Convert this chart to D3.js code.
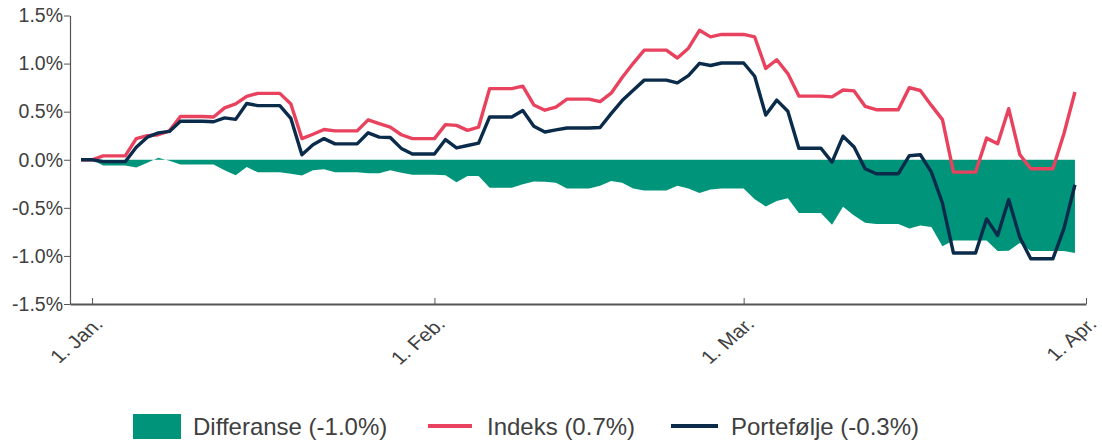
<!DOCTYPE html>
<html><head><meta charset="utf-8">
<script src="https://cdn.jsdelivr.net/npm/d3@7"></script>
<style>body{margin:0;background:#fff}svg{display:block}</style>
</head><body><svg id="c" width="1102" height="448"></svg>
<script>
// ---- data (daily, from 31 Dec 2014) ----
const startDate = "2014-12-31";
const indeks = [0,0,0.04,0.04,0.04,0.22,0.25,0.26,0.30,0.45,0.45,0.45,0.445,0.54,0.58,0.66,0.69,0.69,0.69,0.58,
  0.22,0.265,0.315,0.30,0.30,0.30,0.415,0.375,0.34,0.26,0.22,0.22,0.22,0.365,0.357,0.305,0.34,0.74,0.74,0.74,
  0.765,0.57,0.515,0.548,0.63,0.63,0.63,0.604,0.692,0.855,1.003,1.14,1.14,1.14,1.058,1.16,1.346,1.278,1.303,1.303,
  1.303,1.277,0.95,1.04,0.896,0.662,0.662,0.662,0.654,0.725,0.716,0.556,0.52,0.52,0.52,0.75,0.72,0.565,0.417,-0.129,
  -0.129,-0.129,0.225,0.167,0.531,0.055,-0.094,-0.094,-0.094,0.27,0.705];
const portefolje = [0,0,-0.02,-0.02,-0.02,0.13,0.235,0.28,0.295,0.40,0.40,0.40,0.395,0.435,0.42,0.585,0.563,0.563,0.563,0.43,
  0.052,0.155,0.22,0.165,0.165,0.165,0.28,0.235,0.232,0.118,0.06,0.06,0.06,0.21,0.123,0.148,0.173,0.445,0.445,0.445,
  0.513,0.348,0.289,0.31,0.33,0.33,0.33,0.336,0.48,0.615,0.723,0.828,0.828,0.828,0.80,0.875,1.003,0.98,1.006,1.006,
  1.006,0.868,0.465,0.62,0.505,0.12,0.12,0.12,-0.025,0.245,0.133,-0.094,-0.146,-0.146,-0.146,0.042,0.052,-0.129,-0.45,-0.97,
  -0.97,-0.97,-0.615,-0.787,-0.414,-0.806,-1.03,-1.03,-1.03,-0.717,-0.26];
const differanse = [0,0,-0.06,-0.06,-0.06,-0.08,-0.03,0.02,-0.01,-0.05,-0.05,-0.05,-0.05,-0.11,-0.16,-0.075,-0.13,-0.13,-0.13,-0.145,
  -0.165,-0.11,-0.10,-0.13,-0.13,-0.13,-0.14,-0.14,-0.11,-0.135,-0.155,-0.155,-0.155,-0.16,-0.235,-0.17,-0.17,-0.29,-0.29,-0.29,
  -0.255,-0.225,-0.23,-0.24,-0.30,-0.30,-0.30,-0.27,-0.22,-0.24,-0.30,-0.32,-0.32,-0.32,-0.27,-0.30,-0.345,-0.31,-0.30,-0.30,
  -0.30,-0.41,-0.486,-0.43,-0.40,-0.553,-0.553,-0.553,-0.677,-0.49,-0.58,-0.655,-0.667,-0.667,-0.667,-0.715,-0.684,-0.70,-0.90,-0.84,
  -0.84,-0.84,-0.84,-0.95,-0.945,-0.865,-0.95,-0.95,-0.95,-0.95,-0.97];
const yTicks = [-1.5,-1,-0.5,0,0.5,1,1.5];
const xTickDates = ["2015-01-01","2015-02-01","2015-03-01","2015-04-01"];
const xTickLabels = ["1. Jan.","1. Feb.","1. Mar.","1. Apr."];
const xDomain = ["2014-12-30","2015-04-01"];
const legendLabels = ["Differanse (-1.0%)","Indeks (0.7%)","Portefølje (-0.3%)"];
const colDiff = "#00957A", colIdx = "#E9425E", colPort = "#0B2B4A";

const parse = d3.timeParse("%Y-%m-%d");
const t0 = parse(startDate);
const dates = indeks.map((_, i) => d3.timeDay.offset(t0, i));

const svg = d3.select("#c");
const font = "'Liberation Sans', Arial, sans-serif";
const x = d3.scaleTime().domain(xDomain.map(parse)).range([70, 1086]);
const y = d3.scaleLinear().domain([-1.5, 1.5]).range([304, 15.5]);

// area
const area = d3.area().x((d, i) => x(dates[i])).y0(y(0)).y1(d => y(d));
svg.append("path").datum(differanse).attr("d", area).attr("fill", colDiff);

// lines
const line = d3.line().x((d, i) => x(dates[i])).y(d => y(d));
svg.append("path").datum(indeks).attr("d", line).attr("fill", "none")
  .attr("stroke", colIdx).attr("stroke-width", 3.4).attr("stroke-linejoin", "round");
svg.append("path").datum(portefolje).attr("d", line).attr("fill", "none")
  .attr("stroke", colPort).attr("stroke-width", 3.4).attr("stroke-linejoin", "round");

// y axis
const gy = svg.append("g").attr("transform", "translate(70,0)")
  .call(d3.axisLeft(y).tickValues(yTicks).tickSize(6).tickSizeOuter(0).tickPadding(1)
    .tickFormat(d => d.toFixed(1) + "%"));
gy.select(".domain").attr("stroke", "#555").attr("stroke-width", 1.2);
gy.selectAll(".tick line").attr("stroke", "#555");
gy.selectAll("text").attr("font-family", font).attr("font-size", 19.5).attr("fill", "#404040");

// x axis
const tickDates = xTickDates.map(parse);
const gx = svg.append("g").attr("transform", "translate(0,304)")
  .call(d3.axisBottom(x).tickValues(tickDates).tickSize(-6).tickSizeOuter(0).tickFormat(""));
gx.select(".domain").attr("stroke", "#555").attr("stroke-width", 2);
gx.selectAll(".tick line").attr("stroke", "#555");
svg.append("g").selectAll("text").data(tickDates).join("text")
  .attr("transform", d => `translate(${x(d) + 12},${325}) scale(1.15,1) rotate(-45)`)
  .attr("text-anchor", "end").attr("font-family", font).attr("font-size", 18.5).attr("fill", "#404040")
  .text((d, i) => xTickLabels[i]);

// legend
const lg = svg.append("g").attr("font-family", font).attr("font-size", 24).attr("fill", "#404040");
lg.append("rect").attr("x", 133).attr("y", 414).attr("width", 48).attr("height", 25).attr("fill", colDiff);
lg.append("text").attr("x", 193).attr("y", 435).text(legendLabels[0]);
lg.append("line").attr("x1", 428).attr("x2", 472).attr("y1", 426).attr("y2", 426).attr("stroke", colIdx).attr("stroke-width", 4);
lg.append("text").attr("x", 487).attr("y", 435).text(legendLabels[1]);
lg.append("line").attr("x1", 671).attr("x2", 718).attr("y1", 426).attr("y2", 426).attr("stroke", colPort).attr("stroke-width", 4);
lg.append("text").attr("x", 731).attr("y", 435).text(legendLabels[2]);
</script></body></html>
